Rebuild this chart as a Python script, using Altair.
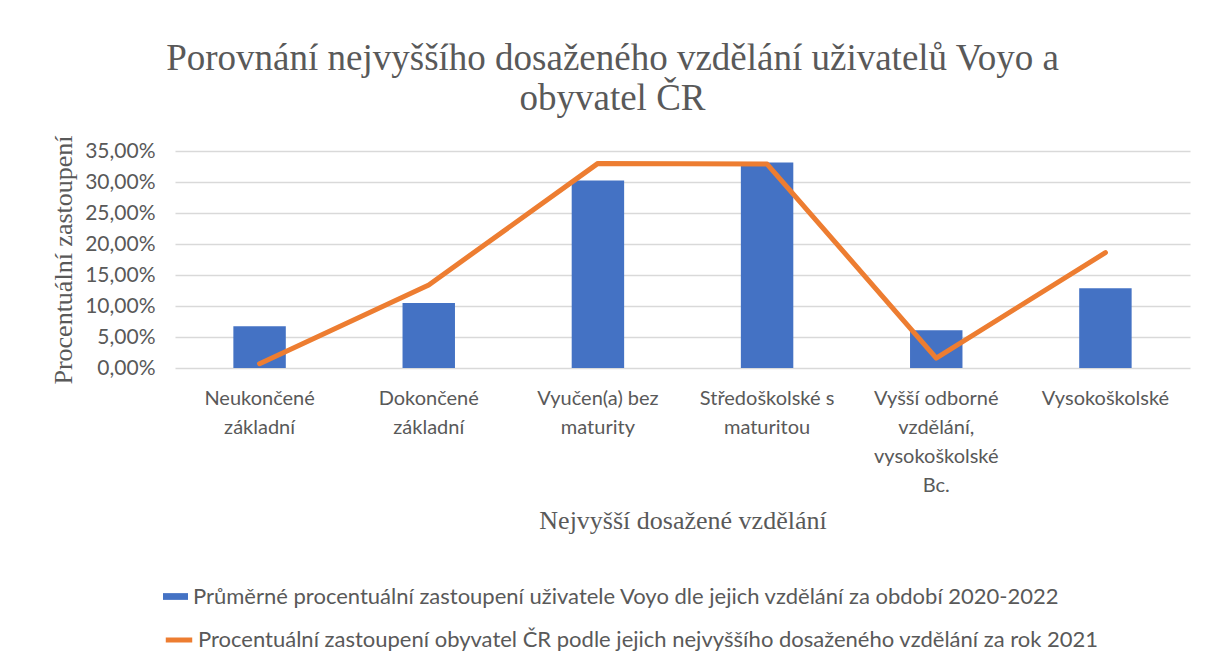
import altair as alt
import pandas as pd

categories = [
    "Neukončené základní",
    "Dokončené základní",
    "Vyučen(a) bez maturity",
    "Středoškolské s maturitou",
    "Vyšší odborné vzdělání, vysokoškolské Bc.",
    "Vysokoškolské",
]
label_lines = [
    ["Neukončené", "základní"],
    ["Dokončené", "základní"],
    ["Vyučen(a) bez", "maturity"],
    ["Středoškolské s", "maturitou"],
    ["Vyšší odborné", "vzdělání,", "vysokoškolské", "Bc."],
    ["Vysokoškolské"],
]
voyo_values = [6.75, 10.5, 30.25, 33.15, 6.1, 12.85]
cr_values = [0.7, 13.4, 33.0, 32.9, 1.6, 18.6]
y_ticks = [0, 5, 10, 15, 20, 25, 30, 35]

series_bar = "Průměrné procentuální zastoupení uživatele Voyo dle jejich vzdělání za období 2020-2022"
series_line = "Procentuální zastoupení obyvatel ČR podle jejich nejvyššího dosaženého vzdělání za rok 2021"

df_bar = pd.DataFrame({"kat": categories, "hodnota": voyo_values, "serie": series_bar})
df_line = pd.DataFrame({"kat": categories, "hodnota": cr_values, "serie": series_line})

parts = []
for c, lines in zip(categories, label_lines):
    arr = "[" + ",".join("'" + l + "'" for l in lines) + "]"
    parts.append(f"datum.value == '{c}' ? {arr}")
label_expr = " : ".join(parts) + " : datum.label"

GRAY = "#595959"
SANS = "Lato, sans-serif"
SERIF = "Liberation Serif, Times New Roman, serif"

x_axis = alt.Axis(
    title="Nejvyšší dosažené vzdělání",
    titleFont=SERIF,
    titleFontSize=26,
    titleFontWeight="normal",
    titleColor=GRAY,
    titlePadding=12,
    labelExpr=label_expr,
    labelAngle=0,
    labelFont=SANS,
    labelFontSize=20,
    labelColor=GRAY,
    labelLineHeight=29,
    labelPadding=20,
    labelBaseline="top",
    ticks=False,
    domain=False,
    labelLimit=300,
)
x_scale = alt.Scale(paddingInner=0.69, paddingOuter=0.345)
y_scale = alt.Scale(domain=[0, 35], nice=False)
y_axis = alt.Axis(
    title="Procentuální zastoupení",
    titleFont=SERIF,
    titleFontSize=26,
    titleFontWeight="normal",
    titleColor=GRAY,
    titlePadding=8,
    values=y_ticks,
    tickCount=8,
    labelOverlap=False,
    labelExpr="replace(format(datum.value, '.2f'), '.', ',') + '%'",
    labelFont=SANS,
    labelFontSize=21,
    labelColor=GRAY,
    labelPadding=20,
    ticks=False,
    domain=False,
    grid=True,
    gridColor="#D9D9D9",
    gridWidth=1.5,
)

bars = alt.Chart(df_bar).mark_bar(color="#4472C4").encode(
    x=alt.X("kat:N", sort=categories, scale=x_scale, axis=x_axis),
    y=alt.Y("hodnota:Q", scale=y_scale, axis=y_axis),
    fill=alt.Fill(
        "serie:N",
        scale=alt.Scale(domain=[series_bar], range=["#4472C4"]),
        legend=alt.Legend(
            title=None,
            orient="none",
            legendX=-12,
            legendY=433,
            symbolType="M-1,-0.27H1V0.27H-1Z",
            symbolSize=625,
            symbolStrokeWidth=0,
            symbolOpacity=1,
            labelFont=SANS,
            labelFontSize=22,
            labelColor=GRAY,
            labelLimit=2000,
            labelOffset=5,
        ),
    ),
)

line = alt.Chart(df_line).mark_line(strokeWidth=5, strokeCap="round", strokeJoin="round").encode(
    x=alt.X("kat:N", sort=categories, scale=x_scale, axis=x_axis),
    y=alt.Y("hodnota:Q", scale=y_scale, axis=y_axis),
    stroke=alt.Stroke(
        "serie:N",
        scale=alt.Scale(domain=[series_line], range=["#ED7D31"]),
        legend=alt.Legend(
            title=None,
            orient="none",
            legendX=-12,
            legendY=473,
            symbolType="stroke",
            symbolSize=700,
            symbolStrokeWidth=5,
            labelFont=SANS,
            labelFontSize=22,
            labelColor=GRAY,
            labelLimit=2000,
            labelOffset=3,
        ),
    ),
)

chart = (
    alt.layer(bars, line)
    .resolve_scale(fill="independent", stroke="independent")
    .properties(
        width=1015,
        height=217,
        title=alt.TitleParams(
            text=["Porovnání nejvyššího dosaženého vzdělání uživatelů Voyo a", "obyvatel ČR"],
            font=SERIF,
            fontSize=37,
            fontWeight="normal",
            color=GRAY,
            anchor="middle",
            dx=-70,
            offset=17,
            lineHeight=40,
        ),
        autosize=alt.AutoSizeParams(type="none"),
        padding={"left": 167, "top": 143, "right": 10, "bottom": 290},
    )
    .configure(background="white")
    .configure_view(stroke=None)
)

chart.save("out.html", embed_options={"renderer": "svg", "actions": False})
